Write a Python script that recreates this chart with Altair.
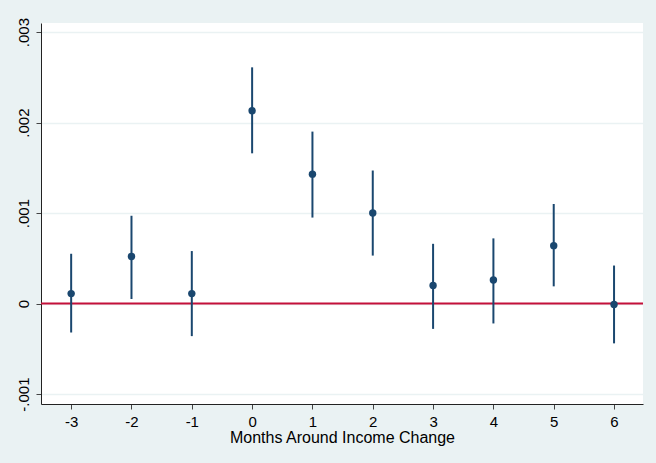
import altair as alt
import pandas as pd

# ---- data ----
months = [-3, -2, -1, 0, 1, 2, 3, 4, 5, 6]
coef = [0.00011, 0.00052, 0.00011, 0.00213, 0.00143, 0.00100, 0.00020, 0.00026, 0.00064, -0.00001]
ci_low = [-0.00032, 0.00005, -0.00036, 0.00166, 0.00095, 0.00053, -0.00028, -0.00022, 0.00019, -0.00044]
ci_high = [0.00055, 0.00097, 0.00058, 0.00261, 0.00190, 0.00147, 0.00066, 0.00072, 0.00110, 0.00042]

y_tick_values = [-0.001, 0, 0.001, 0.002, 0.003]
y_tick_labels = ["-.001", "0", ".001", ".002", ".003"]
x_tick_values = months
x_tick_labels = ["-3", "-2", "-1", "0", "1", "2", "3", "4", "5", "6"]
ref_line = [0]

x_title = "Months Around Income Change"

df = pd.DataFrame({"month": months, "coef": coef, "lo": ci_low, "hi": ci_high})
ref_df = pd.DataFrame({"y": ref_line})

NAVY = "#1A476F"
RED = "#C4103A"
BG = "#EAF2F3"
FONT = "Liberation Sans"


def label_expr(values, labels):
    expr = "''"
    for v, l in reversed(list(zip(values, labels))):
        expr = f"abs(datum.value - ({v})) < 1e-9 ? '{l}' : ({expr})"
    return expr


x_scale = alt.Scale(domain=[-3.5, 6.48], nice=False, zero=False)
y_scale = alt.Scale(domain=[-0.00111, 0.0031], nice=False, zero=False)

x_axis = alt.Axis(
    values=x_tick_values,
    labelExpr=label_expr(x_tick_values, x_tick_labels),
    title=x_title,
    grid=False,
    tickSize=5,
    labelPadding=5,
    labelFontSize=15,
    titleFontSize=16,
    titleFontWeight="normal",
    titlePadding=0,
)
y_axis = alt.Axis(
    values=y_tick_values,
    labelExpr=label_expr(y_tick_values, y_tick_labels),
    title=None,
    grid=True,
    tickSize=5,
    labelAngle=270,
    labelAlign="center",
    labelBaseline="bottom",
    labelPadding=5,
    labelFontSize=15,
)

base = alt.Chart(df)

bars = base.mark_rule(color=NAVY, strokeWidth=2).encode(
    x=alt.X("month:Q", scale=x_scale, axis=x_axis),
    y=alt.Y("lo:Q", scale=y_scale, axis=y_axis),
    y2="hi:Q",
)

points = base.mark_circle(color=NAVY, size=55, opacity=1).encode(
    x=alt.X("month:Q", scale=x_scale),
    y=alt.Y("coef:Q", scale=y_scale),
)

zero_line = alt.Chart(ref_df).mark_rule(color=RED, strokeWidth=2).encode(
    y=alt.Y("y:Q", scale=y_scale)
)

chart = (
    alt.layer(zero_line, bars, points)
    .properties(
        width=602,
        height=381,
        autosize=alt.AutoSizeParams(type="none"),
        padding={"left": 41, "top": 23, "right": 13, "bottom": 59},
        background=BG,
    )
    .configure_view(fill="white", stroke=None)
    .configure_axis(
        domainColor="#222222",
        domainWidth=1,
        tickColor="#444444",
        tickWidth=1,
        gridColor=BG,
        gridWidth=1.5,
        labelColor="#000000",
        titleColor="#000000",
        labelFont=FONT,
        titleFont=FONT,
    )
)

chart.save("out.html", embed_options={"renderer": "svg", "actions": False})
